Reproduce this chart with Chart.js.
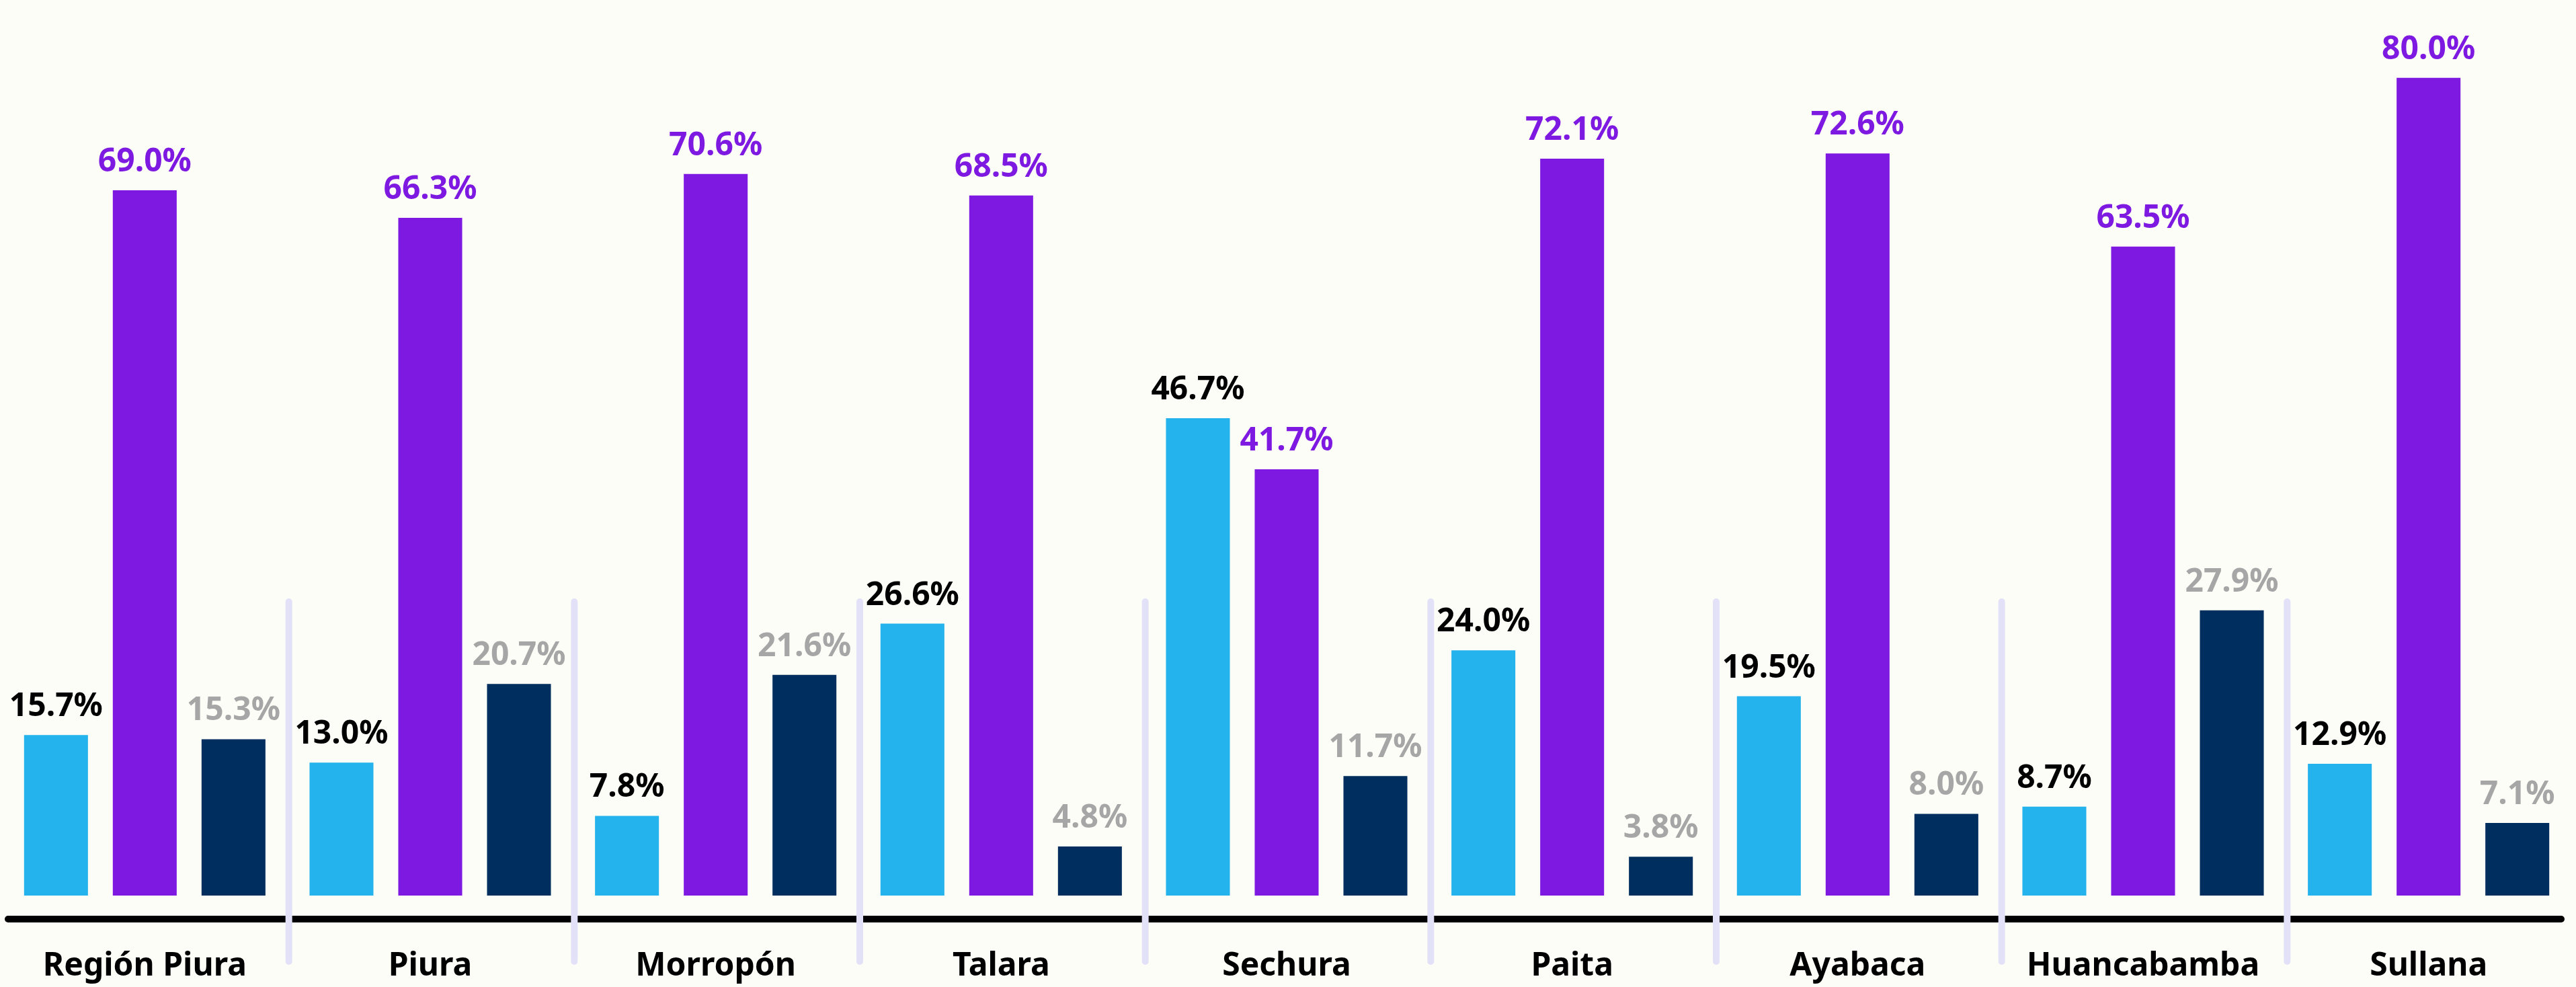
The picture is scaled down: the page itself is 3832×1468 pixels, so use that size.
<!DOCTYPE html>
<html>
<head>
<meta charset="utf-8">
<script src="https://cdn.jsdelivr.net/npm/chart.js@4/dist/chart.umd.min.js"></script>
<style>
  html, body { margin: 0; padding: 0; background: #FDFDF7; }
  #wrap { width: 3832px; height: 1468px; position: relative; }
</style>
</head>
<body>
<div id="wrap"><canvas id="c"></canvas></div>
<script>
// ---- Data ----
const categories = ['Región Piura', 'Piura', 'Morropón', 'Talara', 'Sechura', 'Paita', 'Ayabaca', 'Huancabamba', 'Sullana'];
const seriesA = [15.7, 13.0, 7.8, 26.6, 46.7, 24.0, 19.5, 8.7, 12.9];
const seriesB = [69.0, 66.3, 70.6, 68.5, 41.7, 72.1, 72.6, 63.5, 80.0];
const seriesC = [15.3, 20.7, 21.6, 4.8, 11.7, 3.8, 8.0, 27.9, 7.1];
const yMin = 0;
const yMax = 84;

// ---- Styles ----
const FONT = "'Noto Sans', 'Open Sans', sans-serif";
const barColors = ['#24B3EC', '#7E19E1', '#002F5F'];
const labelColors = ['#000000', '#7E19E1', '#A6A6A6'];

const decorPlugin = {
  id: 'decor',
  beforeDatasetsDraw(chart) {
    const { ctx, chartArea, scales } = chart;
    const x = scales.x;
    ctx.save();
    // baseline axis line
    const axisY = chartArea.bottom + 35;
    ctx.lineCap = 'round';
    ctx.strokeStyle = '#000000';
    ctx.lineWidth = 10;
    ctx.beginPath();
    ctx.moveTo(chartArea.left + 9, axisY);
    ctx.lineTo(chartArea.right - 15, axisY);
    ctx.stroke();
    // separators between categories
    ctx.strokeStyle = '#E3E1F8';
    ctx.lineWidth = 10;
    for (let i = 0; i < categories.length - 1; i++) {
      const sx = (x.getPixelForValue(i) + x.getPixelForValue(i + 1)) / 2 + 2;
      ctx.beginPath();
      ctx.moveTo(sx, chartArea.bottom - 437);
      ctx.lineTo(sx, chartArea.bottom + 98);
      ctx.stroke();
    }
    ctx.restore();
  },
  afterDatasetsDraw(chart) {
    const { ctx } = chart;
    ctx.save();
    ctx.font = 'bold 48px ' + FONT;
    ctx.textAlign = 'center';
    ctx.textBaseline = 'alphabetic';
    chart.data.datasets.forEach((ds, di) => {
      const meta = chart.getDatasetMeta(di);
      ctx.fillStyle = labelColors[di];
      meta.data.forEach((bar, i) => {
        const v = ds.data[i];
        ctx.fillText(v.toFixed(1) + '%', bar.x, bar.y - 28);
      });
    });
    ctx.restore();
  }
};

new Chart(document.getElementById('c'), {
  type: 'bar',
  data: {
    labels: categories,
    datasets: [
      { label: 'Serie 1', data: seriesA, backgroundColor: barColors[0] },
      { label: 'Serie 2', data: seriesB, backgroundColor: barColors[1] },
      { label: 'Serie 3', data: seriesC, backgroundColor: barColors[2] }
    ]
  },
  options: {
    responsive: true,
    maintainAspectRatio: false,
    devicePixelRatio: 1,
    animation: false,
    layout: { padding: { top: 55, bottom: 0, left: 3, right: 7 } },
    datasets: {
      bar: { categoryPercentage: 0.9326, barPercentage: 0.72, borderWidth: 0 }
    },
    plugins: {
      legend: { display: false },
      tooltip: { enabled: false }
    },
    scales: {
      x: {
        grid: { display: false, drawTicks: false },
        border: { display: false },
        afterFit(scale) {
          scale.height = 136;
          scale.paddingLeft = 0;
          scale.paddingRight = 0;
        },
        ticks: {
          color: '#000000',
          padding: 77,
          maxRotation: 0,
          autoSkip: false,
          font: { family: FONT, size: 48, weight: 'bold', lineHeight: 1.2 }
        }
      },
      y: {
        display: false,
        min: yMin,
        max: yMax
      }
    }
  },
  plugins: [decorPlugin]
});
</script>
</body>
</html>
